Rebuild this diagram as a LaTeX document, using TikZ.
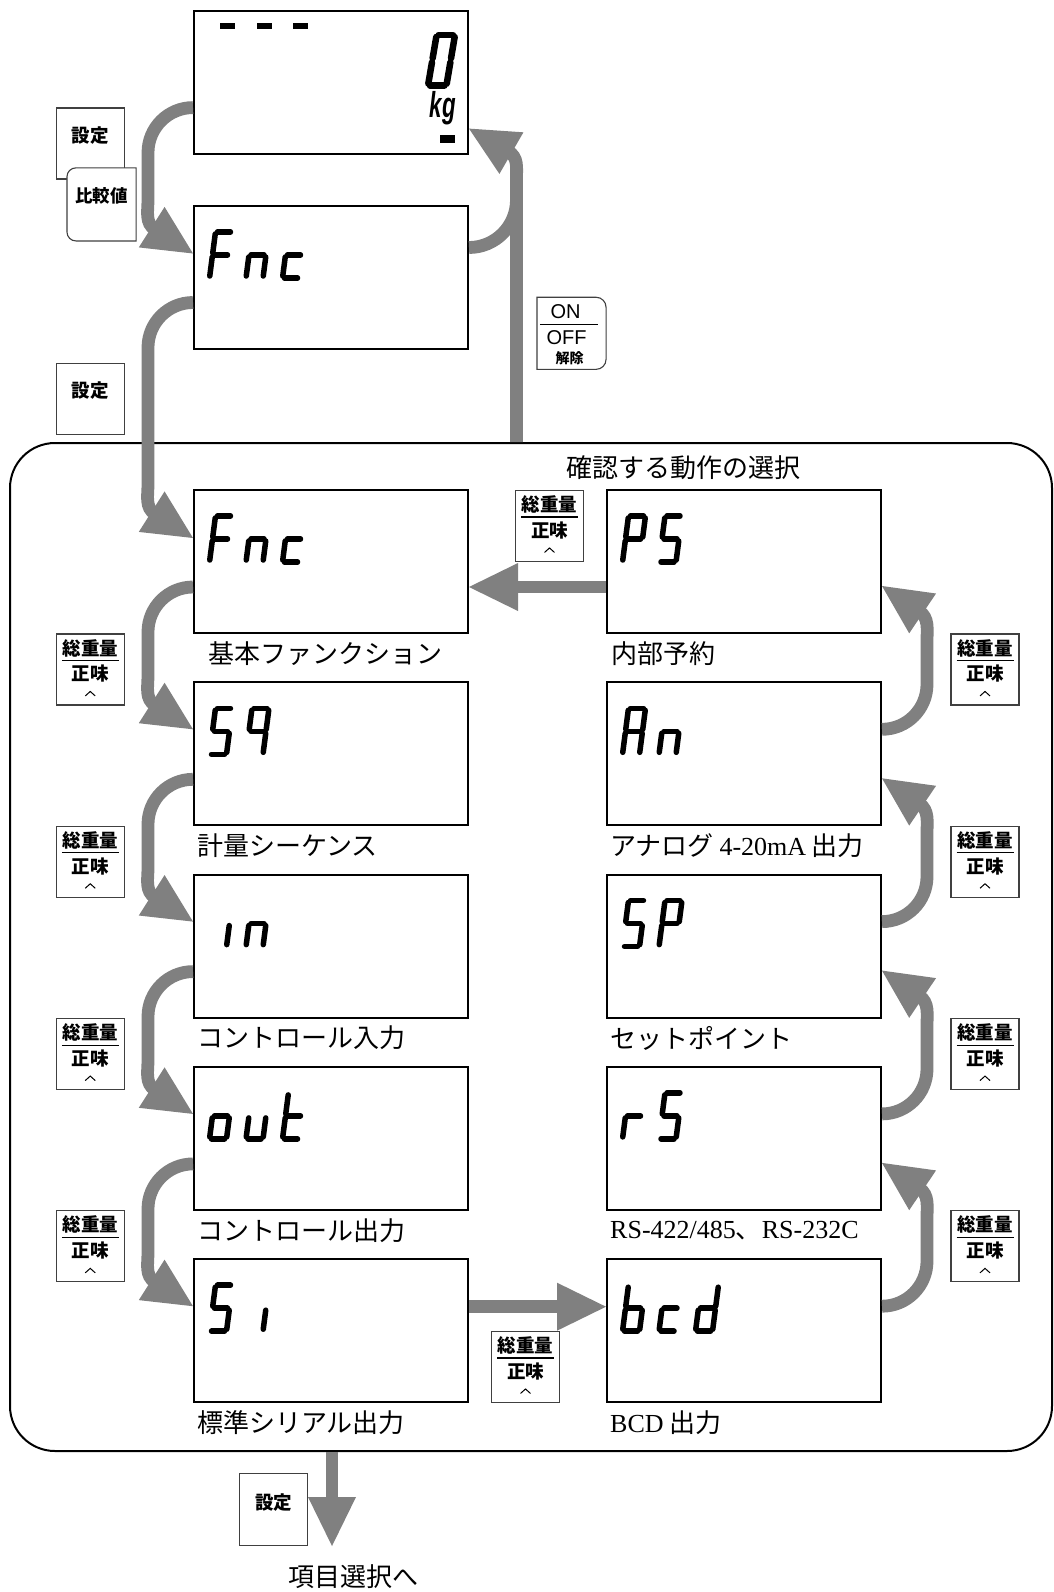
\documentclass[tikz,border=0pt]{standalone}
\usepackage{fontspec}
\usepackage{graphicx}
\usetikzlibrary{calc}
\setmainfont{Liberation Serif}
\newfontfamily\jp{Noto Sans CJK JP}
\newfontfamily\hv{Liberation Sans}
% seven-segment geometry
\def\gH{46}\def\gW{17}\def\gM{23}\def\gS{0.13}
\def\sga{(0,0)--(\gW,0)}
\def\sgb{(\gW,0)--(\gW,\gM)}
\def\sgc{(\gW,\gM)--(\gW,\gH)}
\def\sgd{(0,\gH)--(\gW,\gH)}
\def\sge{(0,\gM)--(0,\gH)}
\def\sgf{(0,0)--(0,\gM)}
\def\sgg{(0,\gM)--(\gW,\gM)}
\newcommand\lcd[3]{%
 \begin{scope}[shift={($(#1.north west)+({16.5+36.5*#2+\gS*\gH},27)$)},xslant=-\gS]
 \foreach \q in {#3}{\edef\tmp{\noexpand\draw[seg] \csname sg\q\endcsname;}\tmp}
 \end{scope}}
\newcommand\ahead[2]{\fill[gray] (#1) -- ++({#2+206.1}:54.56) -- ++({#2+90}:48) -- cycle;}
\newcommand\larr[2]{%
 \draw[flow] (#1) arc[start angle=-90,end angle=-180,radius=45] -- ($(#2)+(-45,-54)$)
   .. controls ($(#2)+(-45,-42)$) and ($(#2)+(-48.1,-30.4)$) .. ($(#2)+(-38,-24)$);
 \ahead{#2}{32.5}}
\newcommand\rarr[2]{%
 \draw[flow] (#1) arc[start angle=90,end angle=0,radius=45] -- ($(#2)+(45,55.2)$)
   .. controls ($(#2)+(45,43.2)$) and ($(#2)+(47.2,31.9)$) .. ($(#2)+(37.3,25.2)$);
 \ahead{#2}{214}}
\newcommand\gkey[2]{%
 \node[key] (#1) at (#2) {};
 \node[ktxt] at ($(#1.north)+(0,14.5)$) {総重量};
 \draw[line width=1.1] ($(#1.north)+(-28.5,27)$) -- ($(#1.north)+(28.5,27)$);
 \node[ktxt] at ($(#1.north)+(0,40.5)$) {正味};
 \draw[line width=1] ($(#1.north)+(-5,62.5)$) -- ($(#1.north)+(0,58)$) -- ($(#1.north)+(5,62.5)$);}
\begin{document}
\begin{tikzpicture}[x=1pt,y=1pt,yscale=-1,
  disp/.style={draw=black,line width=2,minimum width=274,minimum height=143,inner sep=0,fill=white},
  key/.style={draw=black!75,line width=1.1,minimum width=68,minimum height=71,inner sep=0,fill=white},
  flow/.style={draw=gray,line width=12.8},
  seg/.style={line width=5.5,line cap=round,shorten <=2,shorten >=2},
  lbl/.style={font=\jp\fontsize{26}{30}\selectfont,inner sep=0},
  ktxt/.style={font=\jp\bfseries\fontsize{18.5}{20}\selectfont,inner sep=0}]
\useasboundingbox (0,0) rectangle (1054,1592);
\fill[white] (0,0) rectangle (1054,1592);
% frame
\node[draw,line width=2,rounded corners=45,minimum width=1042,minimum height=1008,inner sep=0] (frame) at (531,947) {};
\node[lbl] (title) at (683,468) {確認する動作の選択};
% displays
\node[disp] (top) at (331,82.6) {};
\node[disp] (fnc0) at (331,277.5) {};
\node[disp] (fnc1) at (331,561.5) {};
\node[disp] (sq) at (331,753.8) {};
\node[disp] (inp) at (331,946.1) {};
\node[disp] (out) at (331,1138.4) {};
\node[disp] (si) at (331,1330.7) {};
\node[disp] (ps) at (744,561.5) {};
\node[disp] (an) at (744,753.8) {};
\node[disp] (sp) at (744,946.1) {};
\node[disp] (rs) at (744,1138.4) {};
\node[disp] (bcd) at (744,1330.7) {};
% labels
\node[lbl,anchor=west] at ($(fnc1.south west)+(15,19.5)$) {基本ファンクション};
\node[lbl,anchor=west] at ($(sq.south west)+(4,19.5)$) {計量シーケンス};
\node[lbl,anchor=west] at ($(inp.south west)+(4,19.5)$) {コントロール入力};
\node[lbl,anchor=west] at ($(out.south west)+(4,19.5)$) {コントロール出力};
\node[lbl,anchor=west] at ($(si.south west)+(4,19.5)$) {標準シリアル出力};
\node[lbl,anchor=west] at ($(ps.south west)+(5,19.5)$) {内部予約};
\node[lbl,anchor=west] at ($(an.south west)+(4,19.5)$) {アナログ {\rmfamily 4-20mA} 出力};
\node[lbl,anchor=west] at ($(sp.south west)+(4,19.5)$) {セットポイント};
\node[lbl,anchor=west] at ($(rs.south west)+(4,19.5)$) {{\rmfamily RS-422/485}、{\rmfamily RS-232C}};
\node[lbl,anchor=west] at ($(bcd.south west)+(4,19.5)$) {{\rmfamily BCD} 出力};
% top display contents
\fill (220.4,23) rectangle (235,29);
\fill (257,23) rectangle (271.5,29);
\fill (293.4,23) rectangle (307.6,29);
\begin{scope}[shift={(436.6,35)},xslant=-0.17]
\def\gH{50.6}\def\gW{18.4}\def\gM{25.3}
\foreach \q in {a,b,c,d,e,f}{\edef\tmp{\noexpand\draw[seg,line width=6.5] \csname sg\q\endcsname;}\tmp}
\end{scope}
\node[font=\hv\bfseries\itshape\fontsize{36}{40}\selectfont,inner sep=0] (kg) at (443,108) {\scalebox{0.62}[1]{kg}};
\fill (439.5,135) rectangle (454.7,142.7);
% LCD texts
\lcd{fnc0}{0}{a,f,g,e}\lcd{fnc0}{1}{g,e,c}\lcd{fnc0}{2}{g,e,d}
\lcd{fnc1}{0}{a,f,g,e}\lcd{fnc1}{1}{g,e,c}\lcd{fnc1}{2}{g,e,d}
\lcd{sq}{0}{a,f,g,c,d}\lcd{sq}{1}{a,b,f,g,c}
\lcd{inp}{0}{c}\lcd{inp}{1}{g,e,c}
\lcd{out}{0}{g,c,d,e}\lcd{out}{1}{c,d,e}\lcd{out}{2}{f,e,g,d}
\lcd{si}{0}{a,f,g,c,d}\lcd{si}{1}{c}
\lcd{ps}{0}{a,b,f,g,e}\lcd{ps}{1}{a,f,g,c,d}
\lcd{an}{0}{a,b,c,e,f,g}\lcd{an}{1}{g,e,c}
\lcd{sp}{0}{a,f,g,c,d}\lcd{sp}{1}{a,b,f,g,e}
\lcd{rs}{0}{g,e}\lcd{rs}{1}{a,f,g,c,d}
\lcd{bcd}{0}{f,e,g,c,d}\lcd{bcd}{1}{g,e,d}\lcd{bcd}{2}{b,c,g,e,d}
% keys
\node[key] (k1) at (90.25,143.5) {};
\node[ktxt] at ($(k1.north)+(0,28)$) {設定};
\node[key,draw=none,fill=none,minimum height=72] (k2) at (101.5,204.4) {};
\draw[black!75,line width=1.1,fill=white] (k2.north east) -- ($(k2.north west)+(9,0)$)
  arc[start angle=-90,end angle=-180,radius=9] -- ($(k2.south west)+(0,-9)$)
  arc[start angle=180,end angle=90,radius=9] -- (k2.south east) -- cycle;
\node[ktxt,font=\jp\bfseries\fontsize{17.5}{19}\selectfont] at ($(k2.north)+(0,28)$) {比較値};
\node[key] (k3) at (90.25,399) {};
\node[ktxt] at ($(k3.north)+(0,28)$) {設定};
\node[key,draw=none,fill=none] (koff) at (571.5,333.3) {};
\draw[black!75,line width=1.1,fill=white] (koff.north west) -- ($(koff.north east)+(-10,0)$)
  arc[start angle=-90,end angle=0,radius=10] -- ($(koff.south east)+(0,-10)$)
  arc[start angle=0,end angle=90,radius=10] -- (koff.south west) -- cycle;
\node[font=\hv\fontsize{20}{22}\selectfont,inner sep=0] at ($(koff.north)+(-6,14)$) {ON};
\draw[line width=1] ($(koff.north west)+(3,27.7)$) -- ($(koff.north east)+(-8,27.7)$);
\node[font=\hv\fontsize{20}{22}\selectfont,inner sep=0] at ($(koff.north)+(-5,40.5)$) {OFF};
\node[font=\jp\bfseries\fontsize{14}{15}\selectfont,inner sep=0] at ($(koff.north)+(-2,61)$) {解除};
\gkey{gl1}{90.25,669.5}
\gkey{gl2}{90.25,861.8}
\gkey{gl3}{90.25,1054.1}
\gkey{gl4}{90.25,1246.4}
\gkey{gr1}{985,669.5}
\gkey{gr2}{985,861.8}
\gkey{gr3}{985,1054.1}
\gkey{gr4}{985,1246.4}
\gkey{gtop}{549.5,526}
\gkey{gbot}{525.5,1367}
\node[key,minimum height=72] (k4) at (273.5,1509.7) {};
\node[ktxt] at ($(k4.north)+(0,29)$) {設定};
\node[lbl] (dest) at (353,1577) {項目選択へ};
% flows: left side
\coordinate (s1) at ($(top.south west)+(0,-47.5)$);
\coordinate (t1) at ($(fnc0.north west)+(0,48.5)$);
\larr{s1}{t1}
\coordinate (s2) at ($(fnc0.south west)+(0,-47.5)$);
\coordinate (t2) at ($(fnc1.north west)+(0,49)$);
\larr{s2}{t2}
\coordinate (s3) at ($(fnc1.south west)+(0,-47)$);
\coordinate (t3) at ($(sq.north west)+(0,48)$);
\larr{s3}{t3}
\coordinate (s4) at ($(sq.south west)+(0,-47)$);
\coordinate (t4) at ($(inp.north west)+(0,48)$);
\larr{s4}{t4}
\coordinate (s5) at ($(inp.south west)+(0,-47)$);
\coordinate (t5) at ($(out.north west)+(0,48)$);
\larr{s5}{t5}
\coordinate (s6) at ($(out.south west)+(0,-47)$);
\coordinate (t6) at ($(si.north west)+(0,48)$);
\larr{s6}{t6}
% right side
\coordinate (r1s) at ($(bcd.north east)+(0,48)$);
\coordinate (r1t) at ($(rs.south east)+(0,-48)$);
\rarr{r1s}{r1t}
\coordinate (r2s) at ($(rs.north east)+(0,48)$);
\coordinate (r2t) at ($(sp.south east)+(0,-48)$);
\rarr{r2s}{r2t}
\coordinate (r3s) at ($(sp.north east)+(0,48)$);
\coordinate (r3t) at ($(an.south east)+(0,-48)$);
\rarr{r3s}{r3t}
\coordinate (r4s) at ($(an.north east)+(0,48)$);
\coordinate (r4t) at ($(ps.south east)+(0,-48)$);
\rarr{r4s}{r4t}
% horizontal
\coordinate (h1s) at ($(ps.south west)+(0,-47)$);
\coordinate (h1t) at (fnc1.east |- h1s);
\draw[flow] (h1s) -- ($(h1t)+(45,0)$);
\ahead{h1t}{180}
\coordinate (h2s) at ($(si.north east)+(0,48.5)$);
\coordinate (h2t) at (bcd.west |- h2s);
\draw[flow] (h2s) -- ($(h2t)+(-45,0)$);
\ahead{h2t}{0}
% ON/OFF return
\coordinate (ont) at ($(top.south east)+(0,-26.5)$);
\coordinate (ons) at ($(fnc0.north east)+(0,42.5)$);
\coordinate (onv) at ($(ont)+(47.5,0)$);
\draw[flow] (frame.north -| onv) -- ($(ont)+(47.5,50.5)$)
  .. controls ($(ont)+(47.5,38.5)$) and ($(ont)+(49.4,28.5)$) .. ($(ont)+(39,22.5)$);
\draw[flow] (ons) arc[start angle=90,end angle=0,radius=47.5];
\ahead{ont}{210}
% exit
\coordinate (endp) at (332,1546);
\draw[flow] (frame.south -| endp) -- ($(endp)+(0,-45)$);
\ahead{endp}{90}
\end{tikzpicture}
\end{document}
